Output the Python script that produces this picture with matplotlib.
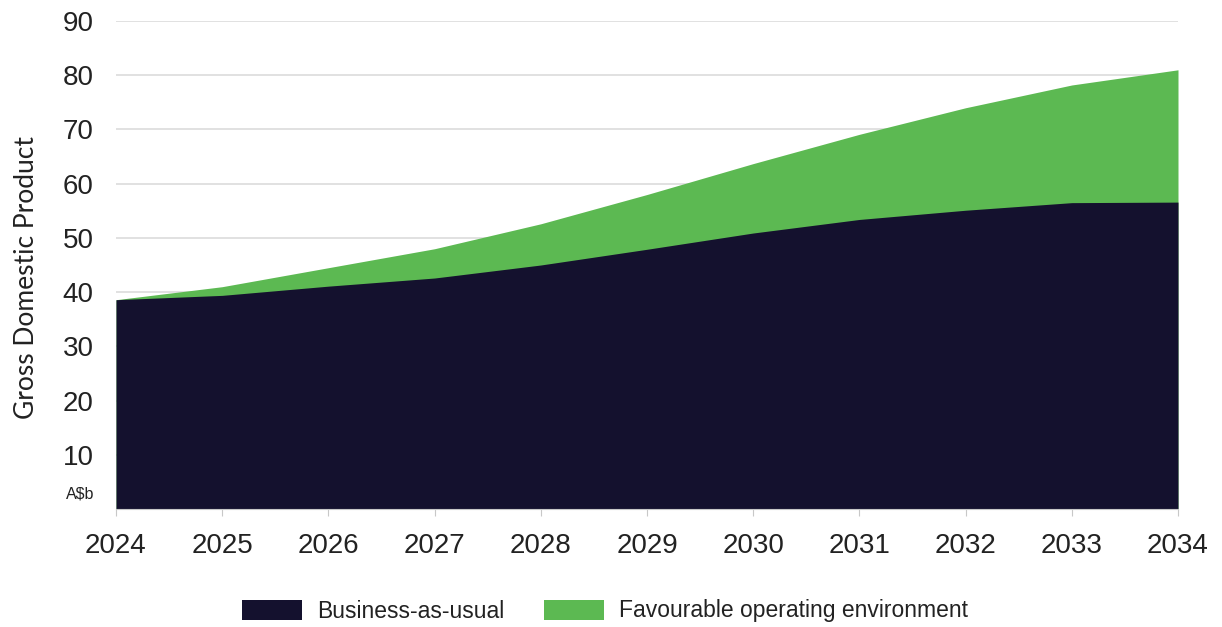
import matplotlib
matplotlib.use("Agg")
import matplotlib.pyplot as plt
from matplotlib.patches import Patch

years = [2024, 2025, 2026, 2027, 2028, 2029, 2030, 2031, 2032, 2033, 2034]
bau = [38.6, 39.4, 41.1, 42.6, 45.0, 47.9, 50.9, 53.4, 55.1, 56.5, 56.6]
favourable = [38.6, 41.0, 44.5, 48.0, 52.6, 58.0, 63.7, 69.1, 74.0, 78.2, 81.0]
y_ticks = [10, 20, 30, 40, 50, 60, 70, 80, 90]

dark = "#14112e"
green = "#5cb952"
text_col = "#222222"

fig = plt.figure(figsize=(12.22, 6.27), dpi=100)
ax = fig.add_axes([116 / 1222, 1 - 509 / 627, (1178 - 116) / 1222, (509 - 21) / 627])

ax.fill_between(years, 0, favourable, color=green, linewidth=0, zorder=2)
ax.fill_between(years, 0, bau, color=dark, linewidth=0, zorder=3)

ax.set_xlim(2024, 2034)
ax.set_ylim(0, 90)
ax.set_xticks(years)
ax.set_yticks(y_ticks)
ax.grid(axis="y", color="#dcdcdc", linewidth=1.2, zorder=1)

tick_font = dict(family="Liberation Sans", size=20, color=text_col)
ax.set_xticklabels([str(y) for y in years], **tick_font)
ax.set_yticklabels([str(t) for t in y_ticks], **tick_font)
ax.tick_params(axis="y", length=0, pad=16)
ax.tick_params(axis="x", length=5, color="#c8c8c8", pad=12)

for side in ["top", "right", "left"]:
    ax.spines[side].set_visible(False)
ax.spines["bottom"].set_color("#c8c8c8")
ax.spines["bottom"].set_zorder(4)

ax.text(-0.02, 2.8, "A$b", transform=ax.get_yaxis_transform(), ha="right", va="center",
        family="Liberation Sans", size=11.5, color=text_col)

fig.text(27 / 1222, 1 - 278 / 627, "Gross Domestic Product", rotation=90, ha="center", va="center",
         family="Lato", size=19, color=text_col)

handles = [Patch(facecolor=dark, label="Business-as-usual"),
           Patch(facecolor=green, label="Favourable operating environment")]
leg = fig.legend(handles=handles, loc="center", bbox_to_anchor=(605 / 1222, 1 - 611 / 627), ncol=2,
                 frameon=False, handlelength=2.6, handleheight=0.95, columnspacing=1.75, handletextpad=0.65,
                 borderpad=0, prop=dict(family="Liberation Sans", size=16.5))
for t in leg.get_texts():
    t.set_color(text_col)

fig.savefig("out.png", dpi=100)
